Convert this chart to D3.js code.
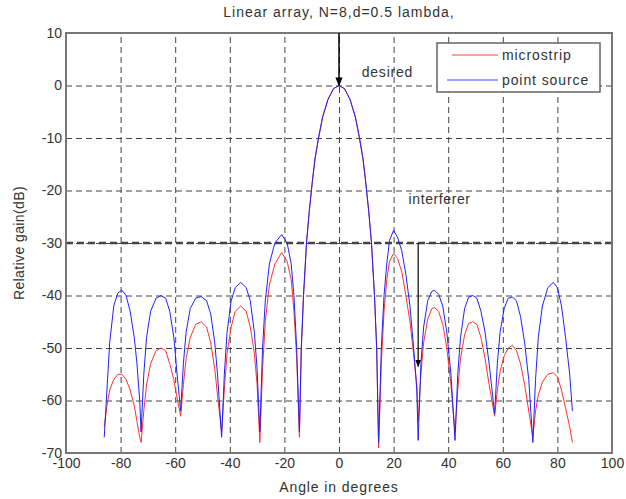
<!DOCTYPE html>
<html>
<head>
<meta charset="utf-8">
<script src="https://cdn.jsdelivr.net/npm/d3@7"></script>
<style>
  body { margin: 0; background: #fff; }
  text { font-family: "Liberation Sans", Arial, sans-serif; fill: #333; }
</style>
</head>
<body>
<svg id="chart" width="626" height="499"></svg>
<script>
// angle (deg) of each sample
const angles = [
  -86, -85, -84, -82.5, -81, -79.5, -78, -76.5, -75, -74, -73, -72.5,
  -71.5, -70.5, -69, -67, -65.2, -63.5, -62, -60.5, -59.5, -58,
  -57, -56, -54.5, -52.5, -50.5, -48.5, -47, -45.5, -44.5, -43,
  -42, -41, -39.5, -38, -36, -34, -32.5, -31, -30, -29,
  -28, -27, -25.5, -23.5, -21, -19, -17.5, -16.5, -15.5, -14.5,
  -13.8, -13, -11.9, -10.9, -9.7, -8.8, -7.5, -6, -4, -2, 0,
  2, 4, 6, 7.5, 8.8, 9.7, 10.9, 11.9, 13, 13.8, 14.5,
  15.5, 16.5, 17.5, 18.5, 20, 21.5, 23, 24.5, 26, 27.5, 28.5, 29,
  30, 31, 32.5, 34, 35, 36.5, 38, 39.5, 41, 42.5,
  43.5, 44.5, 46, 47.5, 49, 50.5, 52, 53.5, 55, 57,
  58, 59, 60.5, 62, 63.5, 65, 66.5, 68, 69.5, 71,
  72, 73, 74.5, 76.5, 78.5, 80, 81.5, 83, 84.5, 85.5
];

const microstrip = [
  -65, -61, -58, -56, -55, -55, -56, -58, -61, -64, -67, -68,
  -62, -57, -53, -50.5, -50, -50.5, -53, -56, -59, -63,
  -57, -52, -48, -45.5, -45, -46, -49, -54, -59, -66,
  -58, -51, -46, -43, -42, -43, -46, -51, -57, -68,
  -54, -45, -38, -34, -31.8, -33.5, -37, -43, -52, -67,
  -50, -40, -30, -24, -18, -14, -10, -6, -2.6, -0.6, 0,
  -0.6, -2.6, -6, -10, -14, -18, -24, -30, -40, -50, -69,
  -53, -43, -37, -33.5, -32, -33, -35.5, -40, -45, -52, -57, -64,
  -55, -49, -44.5, -42.5, -42.3, -43, -45.5, -50, -57, -66,
  -58, -52, -47.5, -45.3, -45, -45.5, -48, -52, -57, -63,
  -58, -54.5, -51.5, -50, -49.5, -50.5, -53, -57, -62, -67,
  -62, -59, -56.5, -55, -54.7, -55.5, -58, -61.5, -65, -68
];

const pointSource = [
  -67, -58, -49, -42, -39.5, -39, -40, -43, -48, -53, -60, -66,
  -55, -48, -43, -40.5, -40, -40.5, -43, -48, -54, -62,
  -53, -47, -42.5, -40.5, -40.2, -41, -43.5, -49, -55, -67,
  -55, -47, -41, -38.5, -37.5, -38.5, -41, -47, -54, -66,
  -50, -41, -34, -30, -28.4, -30, -34, -40, -50, -66,
  -50, -40, -30, -24, -18, -14, -10, -6, -2.6, -0.6, 0,
  -0.6, -2.6, -6, -10, -14, -18, -24, -30, -40, -50, -68,
  -50, -40, -34, -29.5, -27.6, -29, -31.5, -36, -42, -51, -58, -67.6,
  -53, -46, -41, -39.2, -39, -39.8, -42, -47, -55, -67.6,
  -55, -48, -42.5, -40.3, -40, -40.5, -43, -47, -53, -62.5,
  -53, -47, -42.5, -40.5, -40.3, -41, -44, -49, -56, -68,
  -56, -48, -42, -38.5, -37.5, -38.5, -42, -48, -55, -62
];

const xTicks = [-100, -80, -60, -40, -20, 0, 20, 40, 60, 80, 100];
const yTicks = [-70, -60, -50, -40, -30, -20, -10, 0, 10];

const svg = d3.select('#chart');
const margin = { top: 33, right: 14, bottom: 46, left: 66 };
const innerWidth = 626 - margin.left - margin.right;
const innerHeight = 499 - margin.top - margin.bottom;

const xScale = d3.scaleLinear().domain([-100, 100]).range([0, innerWidth]);
const yScale = d3.scaleLinear().domain([-70, 10]).range([innerHeight, 0]);

const g = svg.append('g')
  .attr('transform', `translate(${margin.left},${margin.top})`);

svg.append('defs').append('marker')
    .attr('id', 'arrow')
    .attr('viewBox', '0 0 10 10')
    .attr('refX', 9).attr('refY', 5)
    .attr('markerWidth', 6).attr('markerHeight', 7)
    .attr('orient', 'auto')
  .append('path')
    .attr('d', 'M0,1 L10,5 L0,9 z')
    .attr('fill', '#000');

// grid + tick labels (plain hyphen minus, as in the original)
const xAxis = d3.axisBottom(xScale)
  .tickValues(xTicks)
  .tickFormat(d => String(d))
  .tickSize(-innerHeight)
  .tickPadding(5);
const yAxis = d3.axisLeft(yScale)
  .tickValues(yTicks)
  .tickFormat(d => String(d))
  .tickSize(-innerWidth)
  .tickPadding(4);

const xAxisG = g.append('g')
  .attr('transform', `translate(0,${innerHeight})`)
  .call(xAxis);
const yAxisG = g.append('g').call(yAxis);

[xAxisG, yAxisG].forEach(a => {
  a.select('.domain').remove();
  a.selectAll('.tick line')
    .attr('stroke', '#444')
    .attr('stroke-dasharray', '6,4');
  a.selectAll('.tick text')
    .attr('font-size', 14)
    .attr('fill', '#333')
    .style('font-family', '"Liberation Sans", Arial, sans-serif');
});

// thick dashed line at -30
g.append('line')
  .attr('x1', 0).attr('x2', innerWidth)
  .attr('y1', yScale(-30)).attr('y2', yScale(-30))
  .attr('stroke', '#444')
  .attr('stroke-width', 2.5)
  .attr('stroke-dasharray', '7,4');

// curves
const line = d3.line()
  .x((d, i) => xScale(angles[i]))
  .y(d => yScale(d));

g.append('path').datum(microstrip)
  .attr('d', line)
  .attr('fill', 'none')
  .attr('stroke', '#ff3030')
  .attr('stroke-width', 1);

g.append('path').datum(pointSource)
  .attr('d', line)
  .attr('fill', 'none')
  .attr('stroke', '#2020ff')
  .attr('stroke-width', 1);

// frame
g.append('rect')
  .attr('width', innerWidth)
  .attr('height', innerHeight)
  .attr('fill', 'none')
  .attr('stroke', '#777')
  .attr('stroke-width', 2);

// annotations
g.append('line')
  .attr('x1', xScale(0)).attr('x2', xScale(0))
  .attr('y1', yScale(10)).attr('y2', yScale(0))
  .attr('stroke', '#000').attr('stroke-width', 1.5)
  .attr('marker-end', 'url(#arrow)');
g.append('text')
  .attr('x', xScale(8.3)).attr('y', yScale(1.6))
  .attr('font-size', 14)
  .attr('letter-spacing', 0.8)
  .text('desired');

g.append('line')
  .attr('x1', xScale(29)).attr('x2', xScale(29))
  .attr('y1', yScale(-30)).attr('y2', yScale(-53.5))
  .attr('stroke', '#000').attr('stroke-width', 1.2)
  .attr('marker-end', 'url(#arrow)');
g.append('text')
  .attr('x', xScale(25.5)).attr('y', yScale(-22.5))
  .attr('font-size', 14)
  .attr('letter-spacing', 0.6)
  .text('interferer');

// legend
const legend = svg.append('g').attr('transform', 'translate(437,43)');
legend.append('rect')
  .attr('width', 163).attr('height', 49)
  .attr('fill', '#fff')
  .attr('stroke', '#666').attr('stroke-width', 1.5);
const legendItems = [
  { label: 'microstrip', color: '#ff8080', x1: 15 },
  { label: 'point source', color: '#8080ff', x1: 10 }
];
legendItems.forEach((d, i) => {
  const y = 12 + i * 25;
  legend.append('line')
    .attr('x1', d.x1).attr('x2', 61)
    .attr('y1', y).attr('y2', y)
    .attr('stroke', d.color).attr('stroke-width', 1.5);
  legend.append('text')
    .attr('x', 65).attr('y', y + 5)
    .attr('font-size', 14)
    .attr('letter-spacing', 0.9)
    .text(d.label);
});

// titles
svg.append('text')
  .attr('x', margin.left + xScale(0)).attr('y', 17)
  .attr('text-anchor', 'middle')
  .attr('font-size', 14)
  .attr('letter-spacing', 1)
  .text('Linear array, N=8,d=0.5 lambda,');

svg.append('text')
  .attr('x', margin.left + xScale(0)).attr('y', 492)
  .attr('text-anchor', 'middle')
  .attr('font-size', 14)
  .attr('letter-spacing', 0.9)
  .text('Angle in degrees');

svg.append('text')
  .attr('transform', `translate(24,${margin.top + innerHeight / 2}) rotate(-90)`)
  .attr('text-anchor', 'middle')
  .attr('font-size', 14)
  .attr('letter-spacing', 0.4)
  .text('Relative gain(dB)');
</script>
</body>
</html>
